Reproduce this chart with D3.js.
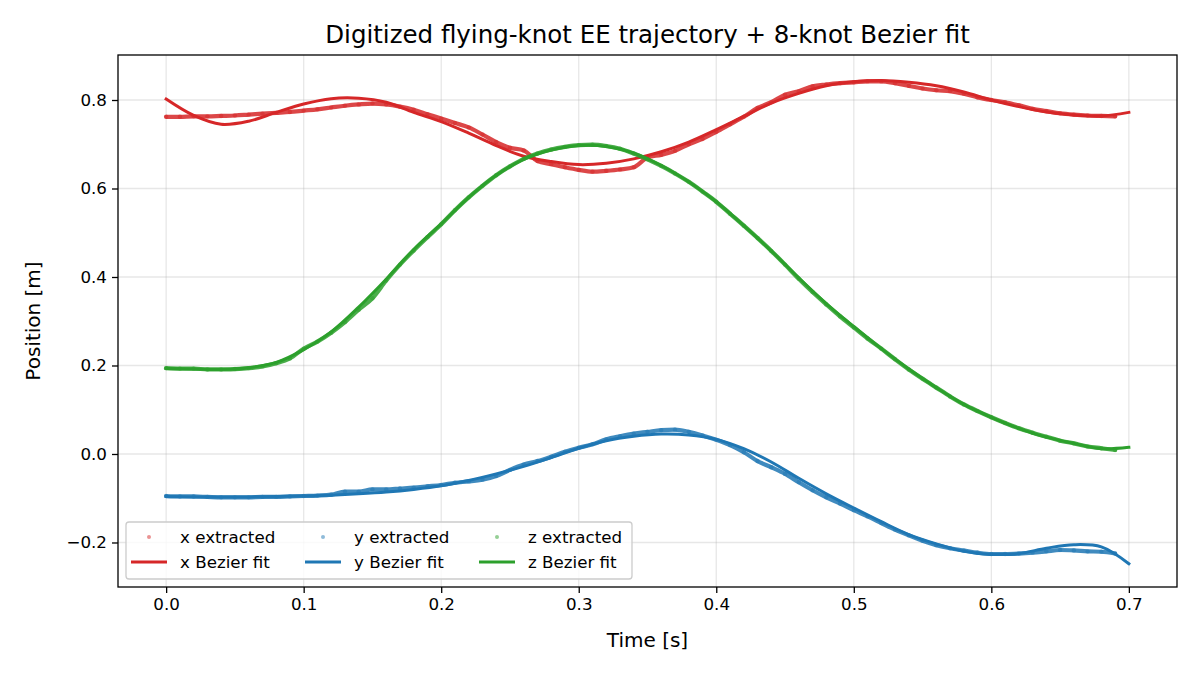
<!DOCTYPE html>
<html><head><meta charset="utf-8">
<script src="https://cdn.jsdelivr.net/npm/d3@7"></script>
<style>body{margin:0;background:#fff}svg text{font-family:"DejaVu Sans",sans-serif;fill:#000}</style>
</head><body><svg id="c" width="1200" height="675"></svg>
<script>
const title = "Digitized flying-knot EE trajectory + 8-knot Bezier fit";
const xLabel = "Time [s]";
const yLabel = "Position [m]";
const xTicks = [0.0,0.1,0.2,0.3,0.4,0.5,0.6,0.7];
const yTicks = [-0.2,0.0,0.2,0.4,0.6,0.8];
const seriesNames = ["x","y","z"];
const seriesColors = ["#d62728","#1f77b4","#2ca02c"];

// fit curves sampled every 0.02 s
const tFit = [0.00,0.02,0.04,0.06,0.08,0.10,0.12,0.14,0.16,0.18,0.20,0.22,0.24,0.26,0.28,0.30,0.32,0.34,0.36,0.38,0.40,0.42,0.44,0.46,0.48,0.50,0.52,0.54,0.56,0.58,0.60,0.62,0.64,0.66,0.68,0.70];
const fitX = [0.802,0.765,0.745,0.752,0.772,0.791,0.803,0.804,0.795,0.772,0.751,0.725,0.697,0.673,0.661,0.654,0.657,0.667,0.683,0.705,0.733,0.763,0.793,0.815,0.832,0.841,0.844,0.840,0.832,0.818,0.800,0.785,0.773,0.766,0.764,0.772];
const fitY = [-0.096,-0.097,-0.097,-0.097,-0.096,-0.095,-0.093,-0.090,-0.086,-0.080,-0.072,-0.060,-0.045,-0.028,-0.008,0.013,0.030,0.040,0.045,0.043,0.033,0.012,-0.018,-0.055,-0.090,-0.122,-0.153,-0.182,-0.203,-0.220,-0.227,-0.225,-0.213,-0.205,-0.210,-0.248];
const fitZ = [0.193,0.192,0.191,0.195,0.207,0.236,0.276,0.332,0.395,0.462,0.520,0.580,0.630,0.666,0.687,0.697,0.695,0.680,0.652,0.615,0.570,0.516,0.459,0.398,0.340,0.288,0.238,0.192,0.150,0.112,0.083,0.058,0.038,0.024,0.012,0.015];

// extracted samples every 0.01 s
const tExt = [0.00,0.01,0.02,0.03,0.04,0.05,0.06,0.07,0.08,0.09,0.10,0.11,0.12,0.13,0.14,0.15,0.16,0.17,0.18,0.19,0.20,0.21,0.22,0.23,0.24,0.25,0.26,0.27,0.28,0.29,0.30,0.31,0.32,0.33,0.34,0.35,0.36,0.37,0.38,0.39,0.40,0.41,0.42,0.43,0.44,0.45,0.46,0.47,0.48,0.49,0.50,0.51,0.52,0.53,0.54,0.55,0.56,0.57,0.58,0.59,0.60,0.61,0.62,0.63,0.64,0.65,0.66,0.67,0.68,0.69];
const extX = [0.762,0.762,0.763,0.763,0.764,0.765,0.767,0.769,0.771,0.773,0.776,0.779,0.783,0.787,0.790,0.792,0.790,0.785,0.778,0.768,0.758,0.748,0.738,0.722,0.705,0.692,0.686,0.662,0.655,0.648,0.642,0.638,0.640,0.643,0.648,0.670,0.676,0.685,0.700,0.712,0.728,0.745,0.762,0.782,0.795,0.812,0.820,0.831,0.835,0.838,0.840,0.842,0.842,0.838,0.832,0.826,0.822,0.820,0.814,0.806,0.800,0.795,0.788,0.780,0.775,0.770,0.767,0.765,0.764,0.763];
const extY = [-0.095,-0.096,-0.096,-0.097,-0.098,-0.098,-0.098,-0.097,-0.097,-0.096,-0.095,-0.094,-0.092,-0.085,-0.085,-0.080,-0.080,-0.078,-0.076,-0.073,-0.070,-0.065,-0.062,-0.058,-0.050,-0.036,-0.024,-0.016,-0.006,0.005,0.014,0.022,0.033,0.040,0.046,0.050,0.054,0.055,0.050,0.042,0.032,0.020,0.004,-0.016,-0.030,-0.045,-0.064,-0.082,-0.098,-0.112,-0.127,-0.141,-0.156,-0.171,-0.184,-0.196,-0.206,-0.213,-0.218,-0.223,-0.226,-0.226,-0.225,-0.223,-0.220,-0.217,-0.218,-0.220,-0.221,-0.225];
const extZ = [0.194,0.193,0.193,0.191,0.191,0.192,0.194,0.198,0.205,0.216,0.238,0.254,0.274,0.298,0.326,0.352,0.392,0.428,0.460,0.490,0.519,0.551,0.580,0.606,0.630,0.650,0.667,0.679,0.688,0.694,0.698,0.699,0.696,0.690,0.679,0.666,0.651,0.634,0.615,0.593,0.570,0.543,0.516,0.488,0.459,0.428,0.396,0.366,0.338,0.311,0.286,0.261,0.238,0.214,0.191,0.170,0.150,0.130,0.112,0.097,0.083,0.070,0.058,0.048,0.039,0.030,0.024,0.017,0.013,0.009];

const m = {left:118, right:1177, top:55, bottom:587};
const svg = d3.select("#c");
const x = d3.scaleLinear().domain([-0.035,0.735]).range([m.left,m.right]);
const y = d3.scaleLinear().domain([-0.3006,0.9017]).range([m.bottom,m.top]);

// grid
const grid = svg.append("g");
grid.selectAll(".gx").data(xTicks).join("line")
  .attr("x1",d=>x(d)).attr("x2",d=>x(d)).attr("y1",m.top).attr("y2",m.bottom)
  .attr("stroke","#b0b0b0").attr("stroke-opacity",0.3).attr("stroke-width",1.3);
grid.selectAll(".gy").data(yTicks).join("line")
  .attr("y1",d=>y(d)).attr("y2",d=>y(d)).attr("x1",m.left).attr("x2",m.right)
  .attr("stroke","#b0b0b0").attr("stroke-opacity",0.3).attr("stroke-width",1.3);

svg.append("clipPath").attr("id","clip").append("rect")
  .attr("x",m.left).attr("y",m.top).attr("width",m.right-m.left).attr("height",m.bottom-m.top);
const plot = svg.append("g").attr("clip-path","url(#clip)");

const extSets = [extX, extY, extZ];
const fitSets = [fitX, fitY, fitZ];
const lineExt = d3.line().x(d=>x(d[0])).y(d=>y(d[1])).curve(d3.curveMonotoneX);
const lineFit = d3.line().x(d=>x(d[0])).y(d=>y(d[1])).curve(d3.curveCatmullRom.alpha(0.5));

seriesNames.forEach((nm,i)=>{
  const c = seriesColors[i];
  const ext = tExt.map((t,j)=>[t,extSets[i][j]]);
  const fit = tFit.map((t,j)=>[t,fitSets[i][j]]);
  plot.append("path").datum(ext).attr("d",lineExt).attr("fill","none")
    .attr("stroke",c).attr("stroke-width",4.2).attr("stroke-opacity",0.85)
    .attr("stroke-linecap","round").attr("stroke-linejoin","round");
  plot.append("g").selectAll("circle").data(ext).join("circle")
    .attr("cx",d=>x(d[0])).attr("cy",d=>y(d[1])).attr("r",2.2)
    .attr("fill",c).attr("fill-opacity",0.5);
  plot.append("path").datum(fit).attr("d",lineFit).attr("fill","none")
    .attr("stroke",c).attr("stroke-width",3).attr("stroke-linecap","square");
});

// axes
const fmt = d => d3.format(".1f")(d).replace("-","\u2212");
const xa = svg.append("g").attr("transform",`translate(0,${m.bottom})`)
  .call(d3.axisBottom(x).tickValues(xTicks).tickFormat(fmt).tickSizeOuter(0).tickSize(6).tickPadding(5));
const ya = svg.append("g").attr("transform",`translate(${m.left},0)`)
  .call(d3.axisLeft(y).tickValues(yTicks).tickFormat(fmt).tickSizeOuter(0).tickSize(6).tickPadding(5));
[xa,ya].forEach(a=>{
  a.select(".domain").remove();
  a.selectAll("line").attr("stroke","#000").attr("stroke-width",1.3);
  a.selectAll("text").attr("font-size","16.7px").attr("font-family","DejaVu Sans").attr("fill","#000");
});
svg.append("rect").attr("x",m.left).attr("y",m.top).attr("width",m.right-m.left).attr("height",m.bottom-m.top)
  .attr("fill","none").attr("stroke","#000").attr("stroke-width",1.3);

svg.append("text").attr("x",(m.left+m.right)/2).attr("y",43).attr("text-anchor","middle")
  .attr("font-size","24.5px").text(title);
svg.append("text").attr("x",(m.left+m.right)/2).attr("y",647).attr("text-anchor","middle")
  .attr("font-size","20px").text(xLabel);
svg.append("text").attr("transform",`translate(40,${(m.top+m.bottom)/2}) rotate(-90)`)
  .attr("text-anchor","middle").attr("font-size","20px").text(yLabel);

// legend
const lg = svg.append("g");
lg.append("rect").attr("x",126).attr("y",522).attr("width",506).attr("height",57).attr("rx",3)
  .attr("fill","#fff").attr("fill-opacity",0.8).attr("stroke","#cccccc").attr("stroke-width",1.3);
const colX = [131, 305, 479];
seriesNames.forEach((nm,i)=>{
  const cx = colX[i], c = seriesColors[i];
  lg.append("circle").attr("cx",cx+18).attr("cy",537).attr("r",2).attr("fill",c).attr("fill-opacity",0.5);
  lg.append("text").attr("x",cx+49).attr("y",543).attr("font-size","16.7px").text(nm+" extracted");
  lg.append("line").attr("x1",cx).attr("x2",cx+36).attr("y1",562).attr("y2",562)
    .attr("stroke",c).attr("stroke-width",3);
  lg.append("text").attr("x",cx+49).attr("y",568).attr("font-size","16.7px").text(nm+" Bezier fit");
});
</script></body></html>
